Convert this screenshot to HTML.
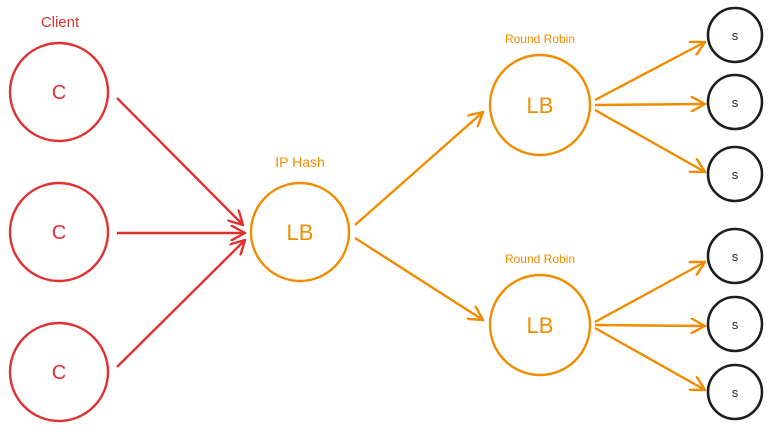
<!DOCTYPE html>
<html><head><meta charset="utf-8"><style>
html,body{margin:0;padding:0;background:#fff;}
svg{display:block;}
text{font-family:"Liberation Sans",sans-serif;}
</style></head><body>
<svg width="770" height="433" viewBox="0 0 770 433" xmlns="http://www.w3.org/2000/svg">
<defs>
<marker id="ar" viewBox="0 0 12 12" refX="11" refY="6" markerWidth="16" markerHeight="16" markerUnits="userSpaceOnUse" orient="auto"><path d="M0,0 L11,6 L0,12" fill="none" stroke="#e03131" stroke-width="1.8"/></marker>
<marker id="ao" viewBox="0 0 12 12" refX="11" refY="6" markerWidth="16" markerHeight="16" markerUnits="userSpaceOnUse" orient="auto"><path d="M0,0 L11,6 L0,12" fill="none" stroke="#f08c00" stroke-width="1.8"/></marker>
</defs>
<g fill="none" stroke="#e03131" stroke-width="2.4">
<circle cx="59" cy="92" r="49"/><circle cx="59" cy="232" r="49"/><circle cx="59" cy="372" r="49"/>
<line x1="117" y1="98" x2="243" y2="225" marker-end="url(#ar)"/>
<line x1="117" y1="233" x2="245" y2="233" marker-end="url(#ar)"/>
<line x1="117" y1="367" x2="245" y2="240" marker-end="url(#ar)"/>
</g>
<g fill="#e03131" font-size="20" text-anchor="middle">
<text x="59" y="99">C</text><text x="59" y="239">C</text><text x="59" y="379">C</text>
<text x="60" y="27" font-size="15">Client</text>
</g>
<g fill="none" stroke="#f08c00" stroke-width="2.4">
<circle cx="300" cy="232" r="49"/><circle cx="540" cy="105" r="50"/><circle cx="540" cy="325" r="50"/>
<line x1="355" y1="225" x2="483" y2="112" marker-end="url(#ao)"/>
<line x1="355" y1="238" x2="483" y2="320" marker-end="url(#ao)"/>
<line x1="595" y1="100" x2="705" y2="42" marker-end="url(#ao)"/>
<line x1="595" y1="105" x2="705" y2="104" marker-end="url(#ao)"/>
<line x1="595" y1="110" x2="705" y2="172" marker-end="url(#ao)"/>
<line x1="595" y1="322" x2="705" y2="262" marker-end="url(#ao)"/>
<line x1="595" y1="325" x2="705" y2="326" marker-end="url(#ao)"/>
<line x1="595" y1="328" x2="705" y2="390" marker-end="url(#ao)"/>
</g>
<g fill="#f08c00" text-anchor="middle">
<text x="300" y="240" font-size="22">LB</text>
<text x="540" y="113" font-size="22">LB</text>
<text x="540" y="333" font-size="22">LB</text>
<text x="300" y="167" font-size="14">IP Hash</text>
<text x="540" y="43" font-size="12">Round Robin</text>
<text x="540" y="263" font-size="12">Round Robin</text>
</g>
<g fill="none" stroke="#1e1e1e" stroke-width="2.6">
<circle cx="735" cy="35" r="27"/><circle cx="735" cy="102" r="27"/><circle cx="735" cy="174" r="27"/>
<circle cx="735" cy="256" r="27"/><circle cx="735" cy="324" r="27"/><circle cx="735" cy="392" r="27"/>
</g>
<g fill="#1e1e1e" font-size="13" text-anchor="middle">
<text x="735" y="40">s</text><text x="735" y="107">s</text><text x="735" y="179">s</text>
<text x="735" y="261">s</text><text x="735" y="329">s</text><text x="735" y="397">s</text>
</g>
</svg>
</body></html>
